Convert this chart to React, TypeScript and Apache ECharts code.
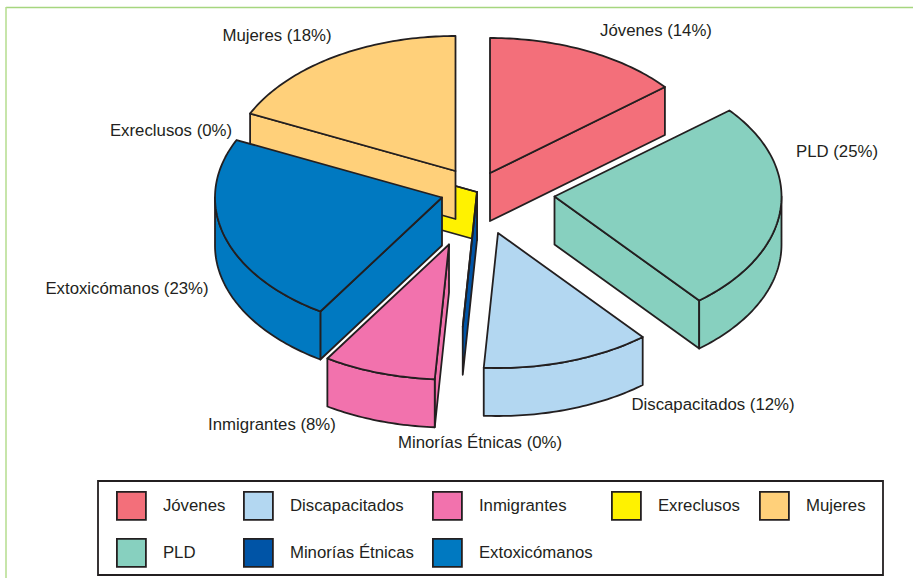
import React, { useEffect, useRef } from "react";
import * as echarts from "echarts";

const names = ["Jóvenes", "PLD", "Discapacitados", "Minorías Étnicas", "Inmigrantes", "Extoxicómanos", "Exreclusos", "Mujeres"];
const values = [14, 25, 12, 0, 8, 23, 0, 18];
const colors = ["#f36f7a", "#87d0bf", "#b3d7f1", "#0054a6", "#f272ad", "#0079c1", "#fff200", "#ffd07a"];
const explodeX = [13, 77.5, 21, 0, -28, -35, 0, -21.5];
const explodeY = [-19, 4.5, 41, 0, 52.5, 5.5, 0, -21];
const drawOrder = [0, 6, 7, 5, 3, 1, 2, 4];
const labelAnchors = [[656, 30.5], [837, 151.5], [713, 404.5], [480, 442.5], [272, 424.5], [127, 288.5], [171, 130.5], [277, 35.5]];
const legendLayout = [
  { name: "Jóvenes", x: 116, y: 491 },
  { name: "Discapacitados", x: 243, y: 491 },
  { name: "Inmigrantes", x: 432, y: 491 },
  { name: "Exreclusos", x: 611, y: 491 },
  { name: "Mujeres", x: 759, y: 491 },
  { name: "PLD", x: 116, y: 538 },
  { name: "Minorías Étnicas", x: 243, y: 538 },
  { name: "Extoxicómanos", x: 432, y: 538 },
];

const CX = 477, CY = 192, RX = 227, RY = 135, DEPTH = 48;
const INK = "#231f20";
const FONT = "'Liberation Sans', Arial, sans-serif";
const total = values.reduce((a, b) => a + b, 0);
const rad = (d: number) => (d * Math.PI) / 180;

function sliceShapes(i: number, value: number) {
  const start = (values.slice(0, i).reduce((a, b) => a + b, 0) / total) * 360;
  const end = start + (value / total) * 360;
  const ax = CX + explodeX[i];
  const ay = CY + explodeY[i];
  const pt = (deg: number, dz = 0) => [ax + RX * Math.sin(rad(deg)), ay - RY * Math.cos(rad(deg)) + dz];
  const arc = (from: number, to: number, dz = 0) => {
    const out: number[][] = [];
    const n = Math.max(1, Math.ceil(to - from));
    for (let k = 0; k <= n; k++) out.push(pt(from + ((to - from) * k) / n, dz));
    return out;
  };
  const style = { fill: colors[i], stroke: INK, lineWidth: 1.8, lineJoin: "round" };
  const poly = (points: number[][]) => ({ type: "polygon", shape: { points }, style });
  const children: any[] = [];
  const wall = (deg: number) =>
    poly([[ax, ay], pt(deg), pt(deg, DEPTH), [ax, ay + DEPTH]]);
  if (Math.sin(rad(start)) < 0) children.push(wall(start));
  if (Math.sin(rad(end)) > 0) children.push(wall(end));
  const from = Math.max(start, 90), to = Math.min(end, 270);
  if (to > from) children.push(poly([...arc(from, to), ...arc(from, to, DEPTH).reverse()]));
  children.push(poly([[ax, ay], ...arc(start, end)]));
  return { type: "group", children };
}

export default function App() {
  const ref = useRef<HTMLDivElement>(null);
  useEffect(() => {
    const chart = echarts.init(ref.current!, null, { renderer: "svg" });
    const series = drawOrder.map((i) => ({
      type: "custom",
      name: names[i],
      coordinateSystem: "none",
      silent: true,
      itemStyle: { color: colors[i] },
      data: [[values[i]]],
      renderItem: (_p: any, api: any) => sliceShapes(i, api.value(0)),
    }));
    chart.setOption({
      animation: false,
      backgroundColor: "#ffffff",
      series,
      legend: legendLayout.map((l) => ({
        data: [l.name],
        left: l.x,
        top: l.y,
        padding: 0,
        itemWidth: 29,
        itemHeight: 28,
        selectedMode: false,
        icon: "rect",
        itemStyle: { borderColor: INK, borderWidth: 1.8 },
        textStyle: { color: INK, fontFamily: FONT, fontSize: 16.8, padding: [0, 0, 6, 12] },
      })),
      graphic: [
        { type: "line", silent: true, shape: { x1: 6, y1: 7.5, x2: 913, y2: 7.5 }, style: { stroke: "#a6d67f", lineWidth: 1.5 } },
        { type: "line", silent: true, shape: { x1: 6, y1: 7, x2: 6, y2: 578 }, style: { stroke: "#b5dd8e", lineWidth: 1.5 } },
        { type: "rect", silent: true, z: -1, shape: { x: 98, y: 481, width: 785, height: 94 }, style: { fill: "#ffffff", stroke: INK, lineWidth: 1.8 } },
        ...names.map((n, i) => ({
          type: "text",
          silent: true,
          x: labelAnchors[i][0],
          y: labelAnchors[i][1],
          style: {
            text: `${n} (${values[i]}%)`,
            fill: INK,
            font: `16.8px ${FONT}`,
            align: "center",
            verticalAlign: "middle",
          },
        })),
      ],
    });
    return () => chart.dispose();
  }, []);
  return <div ref={ref} style={{ position: "absolute", left: 0, top: 0, width: 913, height: 578 }} />;
}
